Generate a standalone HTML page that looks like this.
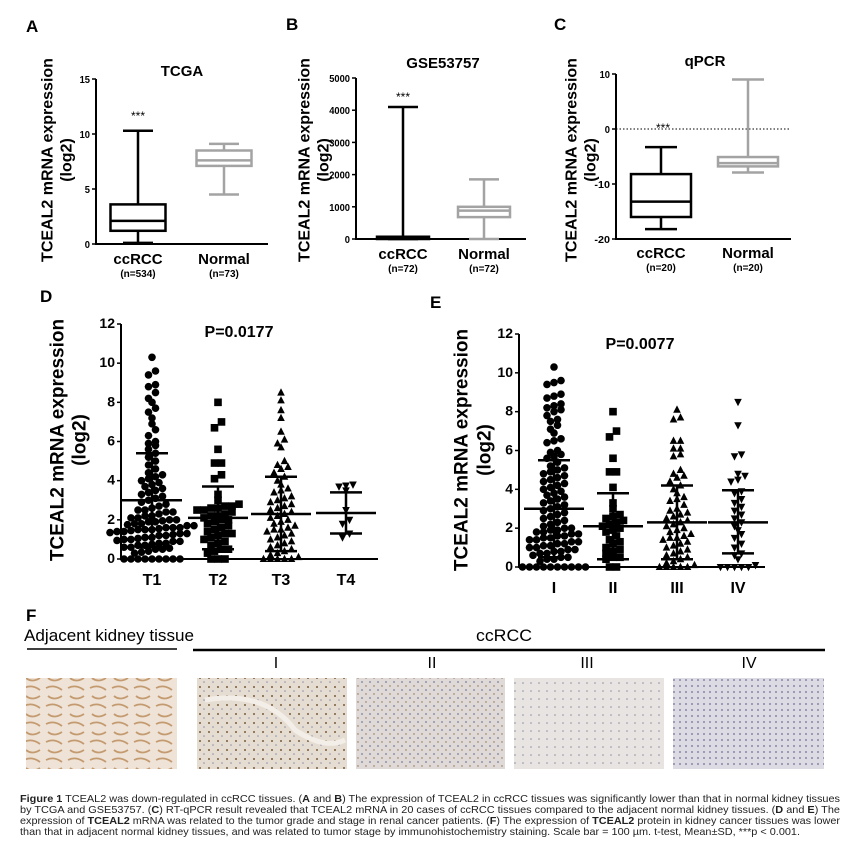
<!DOCTYPE html>
<html><head><meta charset="utf-8"><style>
html,body{margin:0;padding:0;background:#fff;}
svg{display:block;font-family:"Liberation Sans",sans-serif;}
</style></head>
<body>
<svg id="fig" width="844" height="863" viewBox="0 0 844 863">
<g id="root"></g>
</svg>
<script>
// ---- Panel A/B/C box plot data ----
const boxGroups = ["ccRCC","Normal"];
const aMin=[0.1,4.5], aQ1=[1.2,7.1], aMed=[2.1,7.6], aQ3=[3.6,8.5], aMax=[10.3,9.1];
const bMin=[0,0], bQ1=[0,680], bMed=[30,880], bQ3=[70,1000], bMax=[4100,1850];
const cMin=[-18.2,-7.9], cQ1=[-16,-6.8], cMed=[-13.2,-6.2], cQ3=[-8.2,-5.1], cMax=[-3.3,9];
const aTicks=[0,5,10,15], bTicks=[0,1000,2000,3000,4000,5000], cTicks=[-20,-10,0,10];
const aN=["(n=534)","(n=73)"], bN=["(n=72)","(n=72)"], cN=["(n=20)","(n=20)"];
// ---- Panel D data ----
const dCats=["T1","T2","T3","T4"];
const dT1=[0,0,0,0,0,0,0,0,0,0.3,0.35,0.4,0.5,0.5,0.55,0.6,0.6,0.7,0.7,0.75,0.8,0.8,0.9,0.9,0.95,1.0,1.0,1.05,1.1,1.1,1.2,1.2,1.25,1.3,1.3,1.35,1.4,1.4,1.45,1.5,1.5,1.5,1.55,1.6,1.6,1.6,1.7,1.7,1.75,1.8,1.8,1.9,1.9,1.95,2.0,2.0,2.1,2.1,2.2,2.2,2.3,2.4,2.4,2.5,2.5,2.6,2.7,2.8,2.9,3.0,3.1,3.2,3.3,3.4,3.5,3.6,3.7,3.8,3.9,4.0,4.1,4.2,4.3,4.4,4.6,4.8,5.0,5.2,5.4,5.6,5.8,5.9,6.0,6.3,6.6,6.9,7.2,7.5,7.7,8.0,8.2,8.5,8.8,8.9,9.4,9.6,10.3];
const dT2=[0,0,0,0.3,0.4,0.5,0.5,0.7,0.8,0.9,1.0,1.1,1.2,1.3,1.3,1.4,1.5,1.6,1.7,1.8,1.9,2.0,2.0,2.1,2.2,2.2,2.3,2.4,2.5,2.5,2.6,2.6,2.7,2.7,2.8,3.0,3.3,4.1,4.3,4.9,4.9,5.6,6.7,7.0,8.0];
const dT3=[0,0,0,0,0,0.1,0.2,0.3,0.4,0.5,0.6,0.7,0.8,0.9,1.0,1.1,1.2,1.3,1.4,1.5,1.5,1.6,1.7,1.8,1.9,2.0,2.1,2.2,2.3,2.4,2.5,2.6,2.7,2.8,2.9,3.0,3.1,3.2,3.4,3.5,3.6,3.8,4.0,4.2,4.4,4.6,4.7,4.8,5.0,5.7,5.9,6.1,6.5,7.2,7.6,8.1,8.5];
const dT4=[1.1,1.3,1.8,2.0,2.5,3.5,3.7,3.75,3.8];
const dMean=[3.0,2.1,2.3,2.35], dSdHi=[5.4,3.7,4.2,3.4], dSdLo=[0.6,0.5,0.4,1.3];
// ---- Panel E data ----
const eCats=["I","II","III","IV"];
const eI=[0,0,0,0,0,0,0,0,0,0,0.3,0.4,0.4,0.5,0.5,0.6,0.7,0.7,0.8,0.8,0.9,0.9,1.0,1.0,1.1,1.1,1.2,1.2,1.3,1.3,1.4,1.4,1.5,1.5,1.6,1.6,1.7,1.7,1.8,1.8,1.9,1.9,2.0,2.0,2.1,2.2,2.3,2.4,2.5,2.6,2.7,2.8,2.9,3.0,3.1,3.2,3.3,3.4,3.5,3.6,3.7,3.8,3.9,4.0,4.1,4.2,4.3,4.4,4.5,4.6,4.7,4.8,4.9,5.0,5.1,5.2,5.4,5.6,5.7,5.8,5.9,6.0,6.4,6.5,6.6,6.9,7.1,7.3,7.5,7.6,7.8,8.0,8.1,8.2,8.3,8.4,8.7,8.8,8.9,9.4,9.5,9.6,10.3];
const eII=[0,0,0.4,0.5,0.5,0.7,0.8,0.9,1.0,1.2,1.3,1.4,1.6,1.8,1.9,2.0,2.1,2.2,2.3,2.4,2.5,2.6,2.7,3.0,3.3,4.1,4.9,4.9,5.6,6.7,7.0,8.0];
const eIII=[0,0,0,0,0,0.1,0.2,0.3,0.4,0.5,0.6,0.7,0.8,0.9,1.0,1.1,1.2,1.3,1.4,1.5,1.5,1.6,1.7,1.8,1.9,2.0,2.1,2.2,2.3,2.4,2.5,2.6,2.7,2.8,2.9,3.0,3.2,3.4,3.5,3.6,3.8,4.0,4.2,4.4,4.6,4.7,4.8,5.0,5.7,5.8,6.1,6.1,6.5,6.5,7.6,7.7,8.1];
const eIV=[0,0,0,0,0,0.1,0.4,0.6,0.7,1.0,1.2,1.5,1.7,1.9,2.1,2.3,2.5,2.7,2.9,3.1,3.3,3.5,3.8,3.9,4.4,4.5,4.7,4.8,5.7,5.8,7.3,8.5];
const eMean=[3.0,2.1,2.3,2.3], eSdHi=[5.5,3.8,4.2,3.95], eSdLo=[0.5,0.4,0.4,0.7];
const swarmTicks=[0,2,4,6,8,10,12];

const NS="http://www.w3.org/2000/svg";
const root=document.getElementById('root');
function el(tag,attrs,parent,txt){const e=document.createElementNS(NS,tag);for(const k in attrs)e.setAttribute(k,attrs[k]);if(txt!==undefined)e.textContent=txt;(parent||root).appendChild(e);return e;}
function lin(d0,d1,r0,r1){return v=>r0+(v-d0)*(r1-r0)/(d1-d0);}

function yTitle(g,x1,x2,cy,size){
  const t1=el('text',{x:0,y:0,transform:`translate(${x1},${cy}) rotate(-90)`,'text-anchor':'middle','dominant-baseline':'central','font-size':size,'font-weight':'bold'},g,'TCEAL2 mRNA expression');
  
  
  const t2=el('text',{x:0,y:0,transform:`translate(${x2},${cy}) rotate(-90)`,'text-anchor':'middle','dominant-baseline':'central','font-size':size,'font-weight':'bold'},g,'(log2)');
  
  
}
function axes(g,ax,yTop,yBot,xEnd,ticks,yS,tickFont,charW){
  const ya=el('line',{x1:ax,y1:yTop,x2:ax,y2:yBot,stroke:'#000','stroke-width':2},g);
  
  
  const xa=el('line',{x1:ax-1,y1:yBot,x2:xEnd,y2:yBot,stroke:'#000','stroke-width':2},g);
  
  
  ticks.forEach(t=>{
    el('line',{x1:ax-4,y1:yS(t),x2:ax,y2:yS(t),stroke:'#000','stroke-width':1.5},g);
    const s=String(t);
    const at={x:ax-6,y:yS(t)+4,'text-anchor':'end','font-size':tickFont,'font-weight':'bold'};
    if(charW){at.textLength=s.length*charW;at.lengthAdjust='spacingAndGlyphs';}
    const tl=el('text',at,g,s);
    
    
  });
}

function boxPanel(o){
  const g=el('g',{},root);
  
  
  const yS=lin(o.ticks[0],o.ticks[o.ticks.length-1],o.yBot,o.yTop);
  const pl=el('text',{x:o.lx,y:o.ly,'font-size':17,'font-weight':'bold'},g,o.letter);
  
  
  const tt=el('text',{x:o.tx,y:o.ty,'text-anchor':'middle','font-size':15,'font-weight':'bold'},g,o.title);
  
  
  yTitle(g,o.yt1,o.yt2,o.ytc,16);
  if(o.dotted){const dl=el('line',{x1:o.ax,y1:yS(0),x2:o.xEnd,y2:yS(0),stroke:'#000','stroke-width':1,'stroke-dasharray':'1.5,2'},g);}
  axes(g,o.ax,o.yTop,o.yBot,o.xEnd,o.ticks,yS,10.5,5.2);
  boxGroups.forEach((c,i)=>{
    const cx=o.cx[i], col=i===0?'#000':'#a3a3a3', w=o.bw, cw=o.cw;
    const bg=el('g',{},g);
    
    
    el('line',{x1:cx,y1:yS(o.mn[i]),x2:cx,y2:yS(o.mx[i]),stroke:col,'stroke-width':2.5},bg);
    el('line',{x1:cx-cw/2,y1:yS(o.mx[i]),x2:cx+cw/2,y2:yS(o.mx[i]),stroke:col,'stroke-width':2.5},bg);
    el('line',{x1:cx-cw/2,y1:yS(o.mn[i]),x2:cx+cw/2,y2:yS(o.mn[i]),stroke:col,'stroke-width':2.5},bg);
    const h=Math.max(yS(o.q1[i])-yS(o.q3[i]),1);
    el('rect',{x:cx-w/2,y:yS(o.q3[i]),width:w,height:h,fill:'#fff',stroke:col,'stroke-width':2.5},bg);
    el('line',{x1:cx-w/2,y1:yS(o.md[i]),x2:cx+w/2,y2:yS(o.md[i]),stroke:col,'stroke-width':2.5},bg);
    const xl=el('text',{x:cx,y:o.labY,'text-anchor':'middle','font-size':15,'font-weight':'bold'},g,c);
    
    
    const nl=el('text',{x:cx,y:o.labY+13,'text-anchor':'middle','font-size':10,'font-weight':'bold'},g,o.n[i]);
    
    
  });
  const st=el('text',{x:o.starX,y:o.starY,'text-anchor':'middle','font-size':12},g,'***');
  
  
}
boxPanel({name:'panel-a-tcga',letter:'A',lx:26,ly:32,title:'TCGA',tx:182,ty:76,yt1:48,yt2:67,ytc:160,ax:96,yTop:79,yBot:244,xEnd:268,ticks:aTicks,cx:[138,224],bw:55,cw:30,mn:aMin,q1:aQ1,md:aMed,q3:aQ3,mx:aMax,n:aN,labY:264,starX:138,starY:120});
boxPanel({name:'panel-b-gse53757',letter:'B',lx:286,ly:30,title:'GSE53757',tx:443,ty:68,yt1:305,yt2:324,ytc:160,ax:356,yTop:78,yBot:239,xEnd:526,ticks:bTicks,cx:[403,484],bw:52,cw:30,mn:bMin,q1:bQ1,md:bMed,q3:bQ3,mx:bMax,n:bN,labY:259,starX:403,starY:101});
boxPanel({name:'panel-c-qpcr',letter:'C',lx:554,ly:30,title:'qPCR',tx:705,ty:66,yt1:572,yt2:591,ytc:160,ax:616,yTop:74,yBot:239,xEnd:791,ticks:cTicks,cx:[661,748],bw:60,cw:32,mn:cMin,q1:cQ1,md:cMed,q3:cQ3,mx:cMax,n:cN,labY:258,starX:663,starY:132,dotted:true});

// ---- swarm panels ----
function marker(g,shape,x,y,r){
  let m;
  if(shape==='circle') m=el('circle',{cx:x,cy:y,r:r},g);
  else if(shape==='square') m=el('rect',{x:x-r,y:y-r,width:2*r,height:2*r},g);
  else if(shape==='up') m=el('polygon',{points:`${x},${y-r-0.5} ${x+r},${y+r*0.8} ${x-r},${y+r*0.8}`},g);
  else m=el('polygon',{points:`${x-r},${y-r*0.8} ${x+r},${y-r*0.8} ${x},${y+r+0.5}`},g);
  
  
}
function swarmPanel(o){
  const g=el('g',{},root);
  
  
  const yS=lin(0,12,o.yBot,o.yTop);
  const pl=el('text',{x:o.lx,y:o.ly,'font-size':17,'font-weight':'bold'},g,o.letter);
  
  
  const pv=el('text',{x:o.px,y:o.py,'text-anchor':'middle','font-size':16,'font-weight':'bold'},g,o.ptext);
  
  
  yTitle(g,o.yt1,o.yt2,o.ytc,19);
  o.series.forEach((vals,i)=>{
    const cx=o.cx[i];
    const sg=el('g',{fill:'#000'},g);
    
    
    const bins={};
    vals.forEach(v=>{const b=Math.round(v/o.bin);(bins[b]=bins[b]||[]).push(v);});
    Object.keys(bins).forEach(b=>{
      const arr=bins[b],k=arr.length;
      arr.forEach((v,j)=>{marker(sg,o.shapes[i],cx+(j-(k-1)/2)*o.step,yS(v),3.8);});
    });
    const eg=el('g',{stroke:'#000','stroke-width':2.5},g);
    
    
    el('line',{x1:cx-30,y1:yS(o.mean[i]),x2:cx+30,y2:yS(o.mean[i])},eg);
    el('line',{x1:cx,y1:yS(o.lo[i]),x2:cx,y2:yS(o.hi[i])},eg);
    el('line',{x1:cx-16,y1:yS(o.hi[i]),x2:cx+16,y2:yS(o.hi[i])},eg);
    el('line',{x1:cx-16,y1:yS(o.lo[i]),x2:cx+16,y2:yS(o.lo[i])},eg);
    const xl=el('text',{x:cx,y:o.yBot+26,'text-anchor':'middle','font-size':16,'font-weight':'bold'},g,o.cats[i]);
    
    
  });
  axes(g,o.ax,o.yTop,o.yBot,o.xEnd,swarmTicks,yS,14,0);
}
swarmPanel({name:'panel-d-tumor-stage',letter:'D',lx:40,ly:302,ptext:'P=0.0177',px:239,py:337,yt1:58,yt2:80,ytc:440,ax:121,yTop:324,yBot:559,xEnd:378,cx:[152,218,281,346],cats:dCats,series:[dT1,dT2,dT3,dT4],shapes:['circle','square','up','down'],mean:dMean,hi:dSdHi,lo:dSdLo,bin:0.38,step:7});
swarmPanel({name:'panel-e-tumor-grade',letter:'E',lx:430,ly:308,ptext:'P=0.0077',px:640,py:349,yt1:462,yt2:485,ytc:450,ax:519,yTop:334,yBot:567,xEnd:765,cx:[554,613,677,738],cats:eCats,series:[eI,eII,eIII,eIV],shapes:['circle','square','up','down'],mean:eMean,hi:eSdHi,lo:eSdLo,bin:0.38,step:7});
</script>

<!-- Panel F -->
<svg width="844" height="863" style="position:absolute;left:0;top:0">
<defs>
<pattern id="tub" width="22" height="18" patternUnits="userSpaceOnUse">
<rect width="22" height="18" fill="#eee3d6"/>
<path d="M2 4 q8 -4 16 2 M4 12 q6 5 14 0" stroke="#c49a70" stroke-width="1.8" fill="none"/>
</pattern>
<pattern id="dotsI" width="9" height="9" patternUnits="userSpaceOnUse">
<rect width="9" height="9" fill="#e6ddd2"/>
<circle cx="2" cy="3" r="1" fill="#7a5a3a"/><circle cx="6" cy="7" r="0.8" fill="#8f8ea8"/>
</pattern>
<pattern id="dotsII" width="8" height="8" patternUnits="userSpaceOnUse">
<rect width="8" height="8" fill="#dfdad8"/>
<circle cx="2" cy="2" r="0.9" fill="#7c7b97"/><circle cx="6" cy="6" r="0.7" fill="#8b6a4a"/>
</pattern>
<pattern id="dotsIII" width="8" height="8" patternUnits="userSpaceOnUse">
<rect width="8" height="8" fill="#e8e4e2"/>
<circle cx="3" cy="3" r="0.8" fill="#8d8ca6"/>
</pattern>
<pattern id="dotsIV" width="6" height="6" patternUnits="userSpaceOnUse">
<rect width="6" height="6" fill="#dcdae2"/>
<circle cx="2" cy="2" r="0.9" fill="#6f6e96"/>
</pattern>
</defs>
<text x="26" y="621" font-size="17" font-weight="bold">F</text>
<text x="24" y="641" font-size="17" textLength="170" lengthAdjust="spacingAndGlyphs">Adjacent kidney tissue</text>
<line x1="27" y1="649" x2="177" y2="649" stroke="#000" stroke-width="1.5"/>
<text x="504" y="641" font-size="17" text-anchor="middle" textLength="56" lengthAdjust="spacingAndGlyphs">ccRCC</text>
<line x1="193" y1="650" x2="825" y2="650" stroke="#000" stroke-width="2.5"/>
<text x="276" y="668" font-size="16" text-anchor="middle">I</text>
<text x="432" y="668" font-size="16" text-anchor="middle">II</text>
<text x="587" y="668" font-size="16" text-anchor="middle">III</text>
<text x="749" y="668" font-size="16" text-anchor="middle">IV</text>
<rect x="26" y="678" width="151" height="91" fill="url(#tub)"/>
<rect x="197" y="678" width="150" height="91" fill="url(#dotsI)"/>
<path d="M205 700 q60 -10 90 30 q30 20 50 10" stroke="#f3eee8" stroke-width="5" fill="none"/>
<rect x="356" y="678" width="149" height="91" fill="url(#dotsII)"/>
<rect x="514" y="678" width="150" height="91" fill="url(#dotsIII)"/>
<rect x="673" y="678" width="151" height="91" fill="url(#dotsIV)"/>
<g font-size="10.5" fill="#222">
<text x="20" y="802" textLength="820" lengthAdjust="spacingAndGlyphs"><tspan font-weight="bold">Figure 1</tspan> TCEAL2 was down-regulated in ccRCC tissues. (<tspan font-weight="bold">A</tspan> and <tspan font-weight="bold">B</tspan>) The expression of TCEAL2 in ccRCC tissues was significantly lower than that in normal kidney tissues</text>
<text x="20" y="813" textLength="820" lengthAdjust="spacingAndGlyphs">by TCGA and GSE53757. (<tspan font-weight="bold">C</tspan>) RT-qPCR result revealed that TCEAL2 mRNA in 20 cases of ccRCC tissues compared to the adjacent normal kidney tissues. (<tspan font-weight="bold">D</tspan> and <tspan font-weight="bold">E</tspan>) The</text>
<text x="20" y="824" textLength="820" lengthAdjust="spacingAndGlyphs">expression of <tspan font-weight="bold">TCEAL2</tspan> mRNA was related to the tumor  grade and stage in renal cancer patients. (<tspan font-weight="bold">F</tspan>) The expression of <tspan font-weight="bold">TCEAL2</tspan> protein in kidney cancer tissues was lower</text>
<text x="20" y="835" textLength="780" lengthAdjust="spacingAndGlyphs">than that in adjacent normal kidney tissues, and was related to tumor stage by immunohistochemistry staining. Scale bar = 100 µm. t-test, Mean±SD, ***p &lt; 0.001.</text>
</g>
</svg>
</body></html>
